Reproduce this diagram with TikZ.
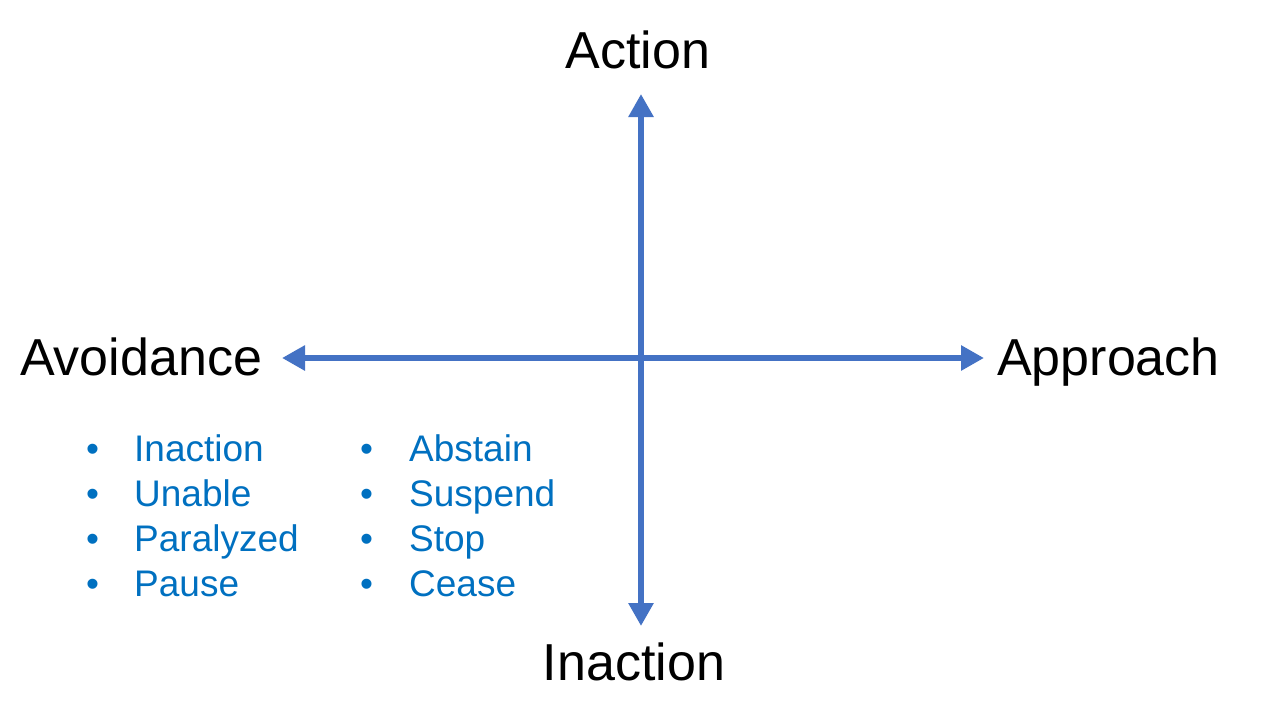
\documentclass[tikz,border=0pt]{standalone}
\usepackage{fontspec}
\setmainfont{Liberation Sans}
\usetikzlibrary{arrows.meta}
\definecolor{axisblue}{HTML}{4472C4}
\definecolor{listblue}{HTML}{0070C0}
\tikzset{
  axis/.style={draw=axisblue, line width=6pt, {Triangle[width=24pt,length=23pt]}-{Triangle[width=24pt,length=23pt]}},
  biglabel/.style={font=\fontsize{52}{60}\selectfont, text=black, inner sep=0pt},
  item/.style={font=\fontsize{37}{45}\selectfont, text=listblue, inner sep=0pt, anchor=base west},
}
\begin{document}
\begin{tikzpicture}[x=1pt,y=-1pt]
\useasboundingbox (0,0) rectangle (1280,720);
% axes endpoints
\coordinate (top) at (641,94);
\coordinate (bot) at (641,626);
\coordinate (left) at (282,358);
\coordinate (right) at (984,358);
\draw[axis] (bot) -- (top);
\draw[axis] (left) -- (right);
% labels
\node[biglabel, anchor=base] (action) at (638,68) {Action};
\node[biglabel, anchor=base] (inaction) at (634,680) {Inaction};
\node[biglabel, anchor=base west] (avoid) at (20,375) {Avoidance};
\node[biglabel, anchor=base west] (appr) at (997,375) {Approach};
% lists
\foreach \t [count=\i] in {Inaction,Unable,Paralyzed,Pause}{
  \node[item] (lb\i) at (86,{461+45*(\i-1)}) {•};
  \node[item] (lt\i) at (134,{461+45*(\i-1)}) {\t};
}
\foreach \t [count=\i] in {Abstain,Suspend,Stop,Cease}{
  \node[item] (rb\i) at (360,{461+45*(\i-1)}) {•};
  \node[item] (rt\i) at (409,{461+45*(\i-1)}) {\t};
}
\end{tikzpicture}
\end{document}
